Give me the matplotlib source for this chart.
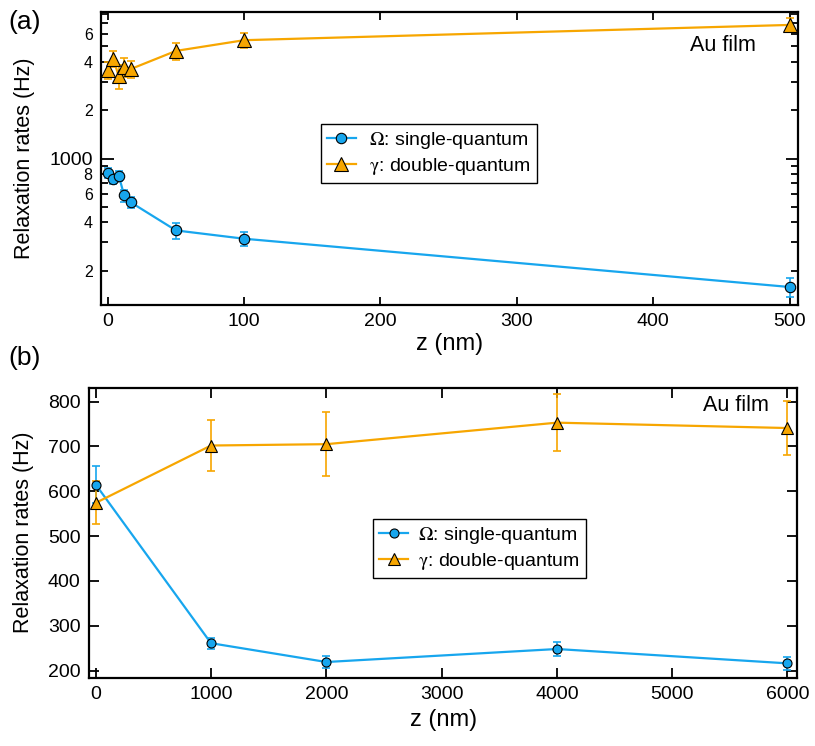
import matplotlib
matplotlib.use("Agg")
import matplotlib.pyplot as plt
from matplotlib.ticker import FixedLocator, FuncFormatter
import numpy as np

plt.rcParams['font.family'] = ['Liberation Sans', 'DejaVu Sans']
plt.rcParams['mathtext.fontset'] = 'stix'

# ---- panel (a) data ----
z_a = [0, 4, 8, 12, 17, 50, 100, 500]
omega_a = [811, 747, 783, 588, 532, 356, 316, 158]
omega_a_err = [60, 55, 55, 50, 40, 42, 30, 21]
gamma_a = [3555, 4200, 3260, 3742, 3620, 4690, 5470, 6810]
gamma_a_err = [420, 500, 550, 500, 450, 550, 600, 700]

# ---- panel (b) data ----
z_b = [0, 1000, 2000, 4000, 6000]
omega_b = [615, 261, 219, 248, 216]
omega_b_err = [41, 12, 13, 16, 15]
gamma_b = [574, 702, 705, 753, 741]
gamma_b_err = [48, 57, 71, 63, 60]

label_omega = r'$\mathrm{\Omega}$: single-quantum'
label_gamma = r'$\mathrm{\gamma}$: double-quantum'

blue = '#17A6EE'
orange = '#F7A600'

fig = plt.figure(figsize=(8.15, 7.46), dpi=100)
ax1 = fig.add_axes([101/815, 1-305/746, 696.7/815, 293/746])
ax2 = fig.add_axes([89/815, 1-677.7/746, 708.3/815, 290/746])

def draw(ax, x, om, ome, ga, gae, ms_c, ms_t):
    ax.errorbar(x, om, yerr=ome, fmt='none', ecolor=blue, elinewidth=1.2,
                capsize=3, capthick=1.2, zorder=2)
    ax.errorbar(x, ga, yerr=gae, fmt='none', ecolor=orange, elinewidth=1.2,
                capsize=3, capthick=1.2, zorder=2)
    ax.plot(x, om, '-o', color=blue, lw=1.6, ms=ms_c, mfc=blue, mec='black',
            mew=0.8, label=label_omega, zorder=3)
    ax.plot(x, ga, '-^', color=orange, lw=1.6, ms=ms_t, mfc=orange, mec='black',
            mew=0.8, label=label_gamma, zorder=3)

draw(ax1, z_a, omega_a, omega_a_err, gamma_a, gamma_a_err, 7.5, 10)
draw(ax2, z_b, omega_b, omega_b_err, gamma_b, gamma_b_err, 6.5, 8.5)

for ax in (ax1, ax2):
    for s in ax.spines.values():
        s.set_linewidth(1.6)
    ax.tick_params(which='both', direction='in', top=True, right=True,
                   width=1.3, labelsize=14, pad=6)

# panel (a)
ax1.set_yscale('log')
ax1.set_xlim(-5, 506)
ax1.set_ylim(122, 8200)
ax1.set_xticks([0, 100, 200, 300, 400, 500])
ax1.yaxis.set_major_locator(FixedLocator([1000]))
ax1.yaxis.set_major_formatter(FuncFormatter(lambda v, p: '1000'))
minors = [m * d for d in (100, 1000) for m in range(2, 10)]
ax1.yaxis.set_minor_locator(FixedLocator(minors))
def minfmt(v, p):
    d = 10 ** np.floor(np.log10(v) + 1e-9)
    m = int(round(v / d))
    return str(m) if m in (2, 4, 6, 8) and v < 7000 else ''
ax1.yaxis.set_minor_formatter(FuncFormatter(minfmt))
ax1.tick_params(axis='y', which='minor', labelsize=11.5, length=5, pad=6)
ax1.tick_params(axis='y', which='major', length=9)
ax1.tick_params(axis='x', which='major', length=6)
ax1.set_xlabel('z (nm)', fontsize=17, labelpad=2)
ax1.set_ylabel('Relaxation rates (Hz)', fontsize=15.5, labelpad=10)
ax1.text(0.940, 0.884, 'Au film', transform=ax1.transAxes, ha='right',
         va='center', fontsize=15.5)
leg1 = ax1.legend(loc='upper left', bbox_to_anchor=(0.3153, 0.6167),
                  borderaxespad=0, fontsize=14, frameon=True, fancybox=False,
                  edgecolor='black', framealpha=1, handlelength=1.5,
                  handletextpad=0.7, borderpad=0.3, labelspacing=0.25)
leg1.get_frame().set_linewidth(1.0)

# panel (b)
ax2.set_xlim(-58, 6085)
ax2.set_ylim(184, 831)
ax2.set_xticks([0, 1000, 2000, 3000, 4000, 5000, 6000])
ax2.set_yticks([200, 300, 400, 500, 600, 700, 800])
ax2.tick_params(axis='both', which='major', length=7)
ax2.set_xlabel('z (nm)', fontsize=17, labelpad=4)
ax2.set_ylabel('Relaxation rates (Hz)', fontsize=15.5, labelpad=10)
ax2.text(0.960, 0.937, 'Au film', transform=ax2.transAxes, ha='right',
         va='center', fontsize=15.5)
leg2 = ax2.legend(loc='upper left', bbox_to_anchor=(0.4014, 0.5462),
                  borderaxespad=0, fontsize=14, frameon=True, fancybox=False,
                  edgecolor='black', framealpha=1, handlelength=1.5,
                  handletextpad=0.5, borderpad=0.3, labelspacing=0.25)
leg2.get_frame().set_linewidth(1.0)

fig.text(8/815, 1-22/746, '(a)', fontsize=19, va='center', ha='left')
fig.text(8/815, 1-358/746, '(b)', fontsize=19, va='center', ha='left')

fig.savefig('out.png', dpi=100)
